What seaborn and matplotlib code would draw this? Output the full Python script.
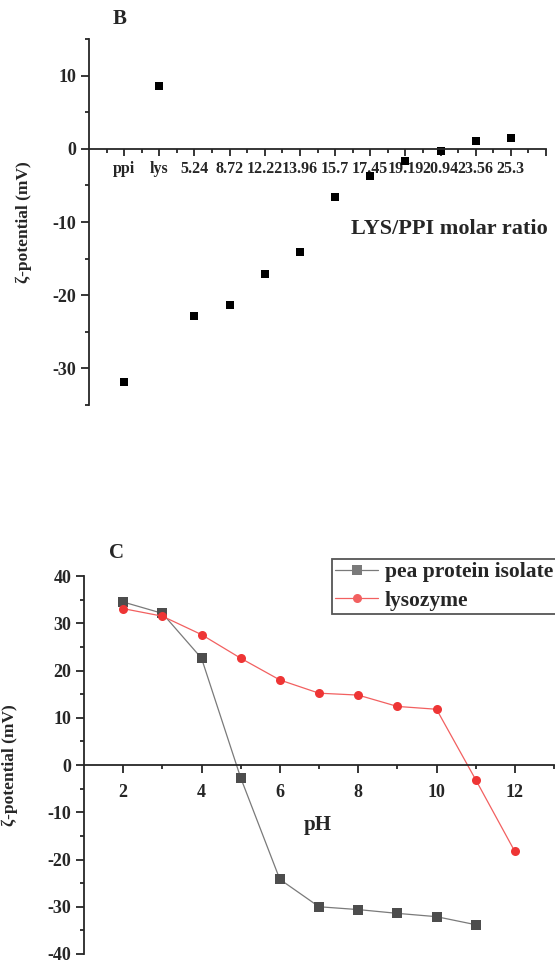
import numpy as np
import pandas as pd
import matplotlib
matplotlib.use("Agg")
import matplotlib.pyplot as plt
import seaborn as sns

# panel B: zeta potential vs LYS/PPI molar ratio
ratio_labels = ["ppi", "lys", "5.24", "8.72", "12.22", "13.96", "15.7",
                "17.45", "19.19", "20.94", "23.56", "25.3"]
zeta_ratio = [-31.8, 8.6, -22.9, -21.3, -17.1, -14.1, -6.6,
              -3.7, -1.6, -0.3, 1.0, 1.5]

# panel C: zeta potential vs pH
ph_ppi = [2, 3, 4, 5, 6, 7, 8, 9, 10, 11]
zeta_ppi = [34.5, 32.1, 22.6, -2.7, -24.2, -30.0, -30.6, -31.4, -32.1, -33.8]
ph_lys = [2, 3, 4, 5, 6, 7, 8, 9, 10, 11, 12]
zeta_lys = [33.1, 31.5, 27.6, 22.6, 18.0, 15.2, 14.8, 12.4, 11.8, -3.1, -18.3]

sns.set_style("ticks")
plt.rcParams['font.family'] = ['Liberation Serif', 'DejaVu Serif']
plt.rcParams['font.weight'] = 'bold'
plt.rcParams['axes.labelweight'] = 'bold'
plt.rcParams['axes.unicode_minus'] = False

fig = plt.figure(figsize=(5.55, 9.63), dpi=100)

# ---------- B ----------
axB = fig.add_axes([0.1604, 0.5794, 0.8234, 0.3801])
dfB = pd.DataFrame({"ratio": ratio_labels, "zeta": zeta_ratio})
sns.scatterplot(data=dfB, x="ratio", y="zeta", marker="s", s=28, color="black",
                edgecolor="black", linewidth=0, ax=axB)
axB.set_xlim(-1, 12)
axB.set_ylim(-35, 15)
axB.spines['bottom'].set_position(('data', 0))
axB.spines['top'].set_visible(False)
axB.spines['right'].set_visible(False)
for s in ['left', 'bottom']:
    axB.spines[s].set_linewidth(1.3)
axB.set_xticks(range(13))
axB.set_xticklabels(ratio_labels + [""], fontsize=11.5, fontweight='bold')
axB.set_xticks(np.arange(-0.5, 12.5, 1), minor=True)
axB.set_yticks([-30, -20, -10, 0, 10])
axB.set_yticks([-35, -25, -15, -5, 5, 15], minor=True)
axB.tick_params(axis='y', labelsize=13, length=6, width=1.3, pad=3)
axB.tick_params(axis='x', length=5, width=1.3, pad=4)
axB.tick_params(which='minor', length=3, width=1.3)
for lab in axB.get_yticklabels():
    lab.set_fontweight('bold')
axB.set_ylabel("ζ-potential (mV)", fontsize=12.5, fontweight='bold')
axB.yaxis.set_label_coords(-0.125, 0.5)
axB.set_xlabel("LYS/PPI molar ratio", fontsize=16, fontweight='bold')
axB.xaxis.set_label_coords(0.788, 0.481)
axB.xaxis.label.set_va('center')
fig.text(120 / 555, 1 - 18.5 / 963, "B", fontsize=15, fontweight='bold',
         ha='center', va='center')

# ---------- C ----------
axC = fig.add_axes([0.1514, 0.00935, 0.8468, 0.3925])
dfC = pd.concat([
    pd.DataFrame({"pH": ph_ppi, "zeta": zeta_ppi, "sample": "pea protein isolate"}),
    pd.DataFrame({"pH": ph_lys, "zeta": zeta_lys, "sample": "lysozyme"}),
])
sns.lineplot(data=dfC, x="pH", y="zeta", hue="sample", style="sample",
             palette={"pea protein isolate": "#7a7a7a", "lysozyme": "#f26060"},
             markers={"pea protein isolate": "s", "lysozyme": "o"},
             dashes=False, linewidth=0.9, markersize=6.5, markeredgewidth=0,
             ax=axC)
for line, mc in zip(axC.get_lines()[:2], ["#4d4d4d", "#ee3535"]):
    line.set_markerfacecolor(mc)
    line.set_markeredgecolor(mc)
axC.set_xlim(1, 13)
axC.set_ylim(-40, 40)
axC.spines['bottom'].set_position(('data', 0))
axC.spines['top'].set_visible(False)
axC.spines['right'].set_visible(False)
for s in ['left', 'bottom']:
    axC.spines[s].set_linewidth(1.3)
axC.set_xticks([2, 4, 6, 8, 10, 12])
axC.set_xticks([3, 5, 7, 9, 11, 13], minor=True)
axC.set_yticks(range(-40, 41, 10))
axC.set_yticks(range(-35, 40, 10), minor=True)
axC.tick_params(axis='both', labelsize=13, length=6, width=1.3)
axC.tick_params(axis='x', pad=8)
axC.tick_params(axis='y', pad=3)
axC.tick_params(which='minor', length=3, width=1.3)
for lab in axC.get_xticklabels() + axC.get_yticklabels():
    lab.set_fontweight('bold')
axC.set_ylabel("ζ-potential (mV)", fontsize=12.5, fontweight='bold')
axC.yaxis.set_label_coords(-0.14, 0.5)
axC.set_xlabel("pH", fontsize=15, fontweight='bold')
axC.xaxis.set_label_coords(0.498, 0.341)
axC.xaxis.label.set_va('center')
fig.text(117 / 555, 1 - 553.5 / 963, "C", fontsize=15, fontweight='bold',
         ha='center', va='center')

handles, labels = axC.get_legend_handles_labels()
axC.legend(handles, labels, loc='upper left',
           bbox_to_anchor=(332 / 555, 1 - 559 / 963), bbox_transform=fig.transFigure,
           prop={'weight': 'bold', 'size': 15.5}, frameon=True, fancybox=False,
           edgecolor="#555555", framealpha=1, borderpad=0.15, labelspacing=0.4,
           handlelength=2.0, handletextpad=0.3, borderaxespad=0)
axC.get_legend().get_frame().set_linewidth(1.3)

fig.savefig("out.png", dpi=100)
